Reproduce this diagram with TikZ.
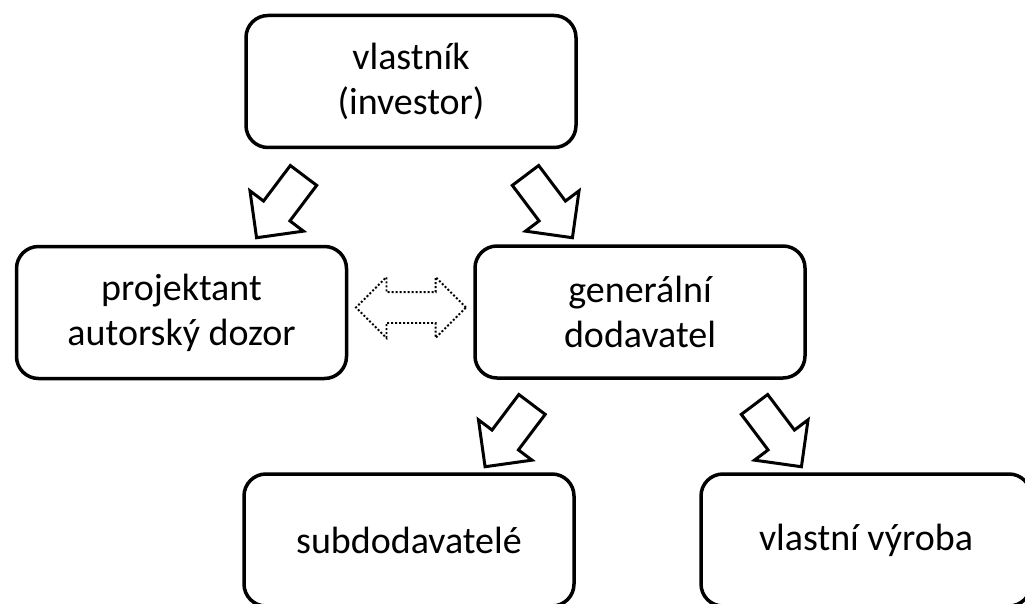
\documentclass[tikz,border=0pt]{standalone}
\usepackage{fontspec}
\setmainfont{Carlito}
\usetikzlibrary{shapes.arrows}

\begin{document}
\begin{tikzpicture}[x=1pt,y=-1pt]
  \useasboundingbox (0,0) rectangle (1025,604);
  \tikzset{BoxStyle/.style = {rectangle,
                              draw,
                              rounded corners = 22pt,
                              line width      = 3.5pt,
                              minimum width   = 330pt,
                              minimum height  = 132pt,
                              align           = center,
                              font            = \fontsize{38}{45}\selectfont}}

  \tikzset{ArrowStyle/.style = {single arrow,
                                draw,
                                line width               = 3pt,
                                inner xsep               = 0pt,
                                inner ysep               = 15pt,
                                minimum height           = 78pt,
                                single arrow head extend = 17pt}}

  \tikzset{LinkStyle/.style = {double arrow,
                               draw,
                               dash pattern             = on 2pt off 2pt,
                               line width               = 1.8pt,
                               inner xsep               = 0pt,
                               inner ysep               = 14.5pt,
                               minimum height           = 110pt,
                               double arrow head extend = 15pt}}

     \node[BoxStyle] (Owner) at (411,81.5) {vlastník\\(investor)};
     \node[BoxStyle] (Designer) at (181.5,312.5) {projektant\\autorský dozor};
     \node[BoxStyle] (Contractor) at (640,312) {generální\\dodavatel};
     \node[BoxStyle] (Sub) at (409,540) {subdodavatelé};
     \node[BoxStyle] (Own) at (866,540) {vlastní výroba};

     \node[ArrowStyle,rotate=233] (A_1) at (285,200) {};
     \node[ArrowStyle,rotate=307] (A_2) at (544,200) {};
     \node[ArrowStyle,rotate=233] (A_3) at (513.5,429) {};
     \node[ArrowStyle,rotate=307] (A_4) at (773,429) {};

     \node[LinkStyle] (L_1) at (411,307.5) {};
     %\draw (Designer) -- (Contractor);
\end{tikzpicture}
\end{document}
